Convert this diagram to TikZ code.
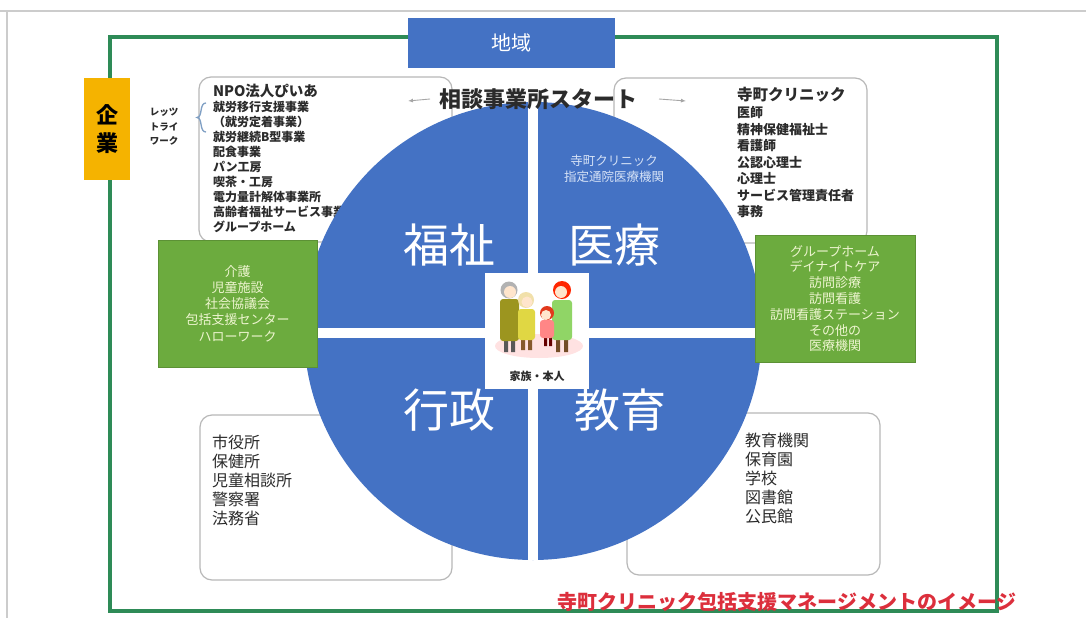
\documentclass[tikz,border=0pt]{standalone}
\usepackage{fontspec}
\setmainfont{Noto Sans CJK JP}
\usetikzlibrary{arrows.meta,positioning}
\definecolor{RBlue}{HTML}{4472C4}
\definecolor{RFrame}{HTML}{2E8B57}
\definecolor{RLeaf}{HTML}{6CAB3E}
\definecolor{RLeafText}{HTML}{EEF5D0}
\definecolor{RGold}{HTML}{F5B300}
\definecolor{RRed}{HTML}{DC2F3C}
\definecolor{RGray}{HTML}{B8B8B8}
\definecolor{RRule}{HTML}{CCCCCC}
\definecolor{RInk}{HTML}{2B2B2B}
\definecolor{RPale}{HTML}{D6E2F6}
\definecolor{RBrace}{HTML}{7F9FC4}

\begin{document}
\begin{tikzpicture}[
  x=1pt,y=-1pt,
  every node/.style={inner sep=0pt,outer sep=0pt},
  listbox/.style={draw=RGray,line width=1.2pt,rounded corners=12pt,fill=white,anchor=north west},
  leafbox/.style={fill=RLeaf,draw=RLeaf!85!black,line width=0.6pt,anchor=north west},
  leaftext/.style={text=RLeafText,align=center,font=\fontsize{13}{16.2}\selectfont},
  item/.style={anchor=west,text=RInk,font=\fontsize{12}{14}\selectfont\bfseries},
  bigitem/.style={anchor=west,text=RInk,font=\fontsize{16}{19}\selectfont},
  title/.style={anchor=west,text=RInk,font=\fontsize{14.5}{17}\selectfont\bfseries},
  quad/.style={text=white,font=\fontsize{46}{50}\selectfont},
  divider/.style={white,line width=10pt},
  pointer/.style={-{Latex[length=5pt,width=4pt]},line width=0.9pt,color=gray!70}
]
  \useasboundingbox (0,0) rectangle (1086,618);
  \fill[white] (0,0) rectangle (1086,618);

  % page rules
  \draw[RRule,line width=1.5pt] (0,11) -- (1086,11);
  \draw[RRule,line width=1.5pt] (7,11) -- (7,618);

  % region frame
  \node[draw=RFrame,line width=4pt,minimum width=887pt,minimum height=574pt,anchor=north west] (region) at (110,37) {};

  % list boxes behind the circle
  \node[listbox,minimum width=253pt,minimum height=165pt] (npobox) at (199,77) {};
  \node[listbox,minimum width=253pt,minimum height=165pt] (clinicbox) at (614,78) {};
  \node[listbox,minimum width=252pt,minimum height=165pt] (citybox) at (200,415) {};
  \node[listbox,minimum width=253pt,minimum height=162pt] (schoolbox) at (627,413) {};

  \node[title] (npotitle) at (213,91) {NPO法人ぴいあ};
  \foreach \t [count=\i] in {就労移行支援事業,（就労定着事業）,就労継続B型事業,配食事業,パン工房,喫茶・工房,電力量計解体事業所,高齢者福祉サービス事業,グループホーム}
    \node[item] (npo\i) at (213,92+15*\i) {\t};

  \node[title,font=\fontsize{15.5}{18}\selectfont\bfseries] (clinictitle) at (737,95) {寺町クリニック};
  \foreach \t [count=\i] in {医師,精神保健福祉士,看護師,公認心理士,心理士,サービス管理責任者,事務}
    \node[item,font=\fontsize{13}{15}\selectfont\bfseries] (staff\i) at (737,96.5+16.5*\i) {\t};

  \foreach \t [count=\i] in {市役所,保健所,児童相談所,警察署,法務省}
    \node[bigitem] (city\i) at (212,423+19*\i) {\t};
  \foreach \t [count=\i] in {教育機関,保育園,学校,図書館,公民館}
    \node[bigitem] (school\i) at (745,421+19*\i) {\t};

  \node[text=RInk,align=center,font=\fontsize{9.5}{14.5}\selectfont\bfseries] (letstry) at (164,127) {レッツ\\トライ\\ワーク};
  \draw[RBrace,line width=1.3pt] (206,103) .. controls (199,103) and (203,117) .. (197,117.5)
    .. controls (203,118) and (199,132) .. (206,132);

  % circle and its quarters
  \node[circle,fill=RBlue,minimum size=458pt] (core) at (533,331) {};
  \draw[divider] (core.north) -- (core.south);
  \draw[divider] ([yshift=-2pt]core.west) -- ([yshift=-2pt]core.east);

  \foreach \n/\x/\y/\t in {welfare/449/245/福祉,medical/614/245/医療,admin/449/410/行政,education/620/410/教育}
    \node[quad] (\n) at (\x,\y) {\t};

  \node[text=RPale,align=center,font=\fontsize{12.5}{16}\selectfont] (designated) at (614,169) {寺町クリニック\\指定通院医療機関};

  % family in the middle
  \node[fill=white,minimum width=104pt,minimum height=116pt] (family) at (537,331) {};
  \fill[pink!45] (539,346) ellipse (44 and 12);
  \fill[gray!70!black] (504,338) rectangle (508,352) (511,338) rectangle (515,352);
  \fill[brown!70!black] (521,338) rectangle (525,350) (528,338) rectangle (532,350);
  \fill[red!40!black] (544,336) rectangle (547,346) (549,336) rectangle (552,346);
  \fill[brown!60!black] (556,338) rectangle (560,352) (564,338) rectangle (568,352);
  \fill[olive!60!yellow!80!black,rounded corners=3pt] (500,299) rectangle (519,341);
  \fill[yellow!60!olive!70,rounded corners=3pt] (518,309) rectangle (535,340);
  \fill[green!45!olive!60,rounded corners=3pt] (552,300) rectangle (572,340);
  \fill[red!30!pink,rounded corners=3pt] (540,320) rectangle (554,338);
  \fill[gray!60] (509,290) circle (8.5);
  \fill[orange!20!white] (510,292) circle (6);
  \fill[yellow!40!brown!40] (526,300) circle (8);
  \fill[orange!20!white] (527,302) circle (5.5);
  \fill[red!55!brown] (547,313) circle (7);
  \fill[orange!20!white] (546,315) circle (5);
  \fill[red!70!orange] (562,290) circle (9);
  \fill[orange!20!white] (561,292) circle (6);
  \node[text=RInk,font=\fontsize{11}{13}\selectfont\bfseries] (familylabel) at (537,376) {家族・本人};

  % partners on both sides
  \node[leafbox,minimum width=159pt,minimum height=127pt] (carebox) at (158,240) {};
  \node[leaftext] (caretext) at (carebox.center) {介護\\児童施設\\社会協議会\\包括支援センター\\ハローワーク};
  \node[leafbox,minimum width=160pt,minimum height=127pt] (homebox) at (755,235) {};
  \node[leaftext,font=\fontsize{13}{15.8}\selectfont] (hometext) at (homebox.center) {グループホーム\\デイナイトケア\\訪問診療\\訪問看護\\訪問看護ステーション\\その他の\\医療機関};

  % start of consultation
  \node[text=RInk,font=\fontsize{22}{26}\selectfont\bfseries] (start) at (538,99) {相談事業所スタート};
  \coordinate (startleft) at (408,101);
  \coordinate (startright) at (686,101);
  \draw[pointer] ([xshift=-9pt]start.west) -- (startleft);
  \draw[pointer] ([xshift=22pt]start.east) -- (startright);

  % labels on the frame
  \node[fill=RBlue,minimum width=207pt,minimum height=50pt,text=white,font=\fontsize{20}{24}\selectfont] (area) at (511,43) {地域};
  \node[fill=RGold,minimum width=46pt,minimum height=102pt,align=center,font=\fontsize{22}{28}\selectfont\bfseries] (company) at (107,129) {企\\業};

  \node[text=RRed,font=\fontsize{20}{24}\selectfont\bfseries] (caption) at (787,602) {寺町クリニック包括支援マネージメントのイメージ};
\end{tikzpicture}
\end{document}
